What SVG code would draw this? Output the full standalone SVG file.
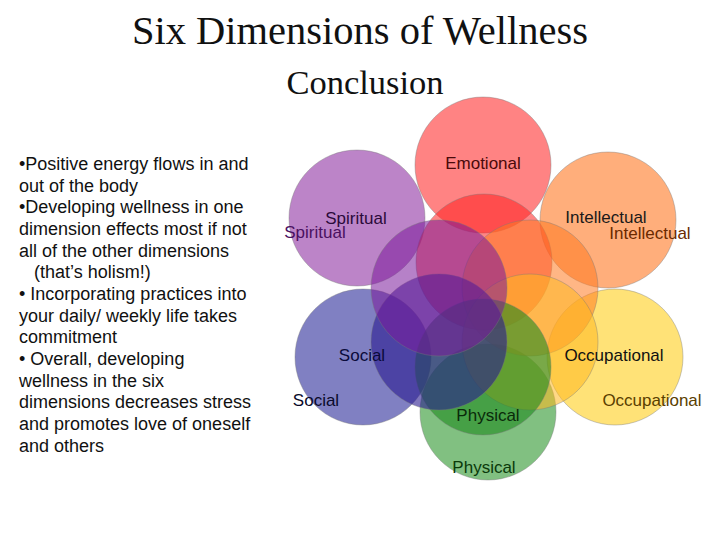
<svg xmlns="http://www.w3.org/2000/svg" width="720" height="540" viewBox="0 0 720 540">
<style>
.t{font-family:"Liberation Serif",serif;fill:#111;text-anchor:middle}
.b{font-family:"Liberation Sans",Arial,sans-serif;font-size:18px;fill:#111}
.l{font-family:"Liberation Sans",Arial,sans-serif;font-size:17px;text-anchor:middle}
circle{stroke:#777;stroke-opacity:0.4;stroke-width:1}
</style>
<rect width="720" height="540" fill="#fff"/>
<text class="t" x="360" y="44" font-size="40.5">Six Dimensions of Wellness</text>
<text class="t" x="365" y="94" font-size="34.5">Conclusion</text>
<g id="text">
<text class="b" x="19" y="170">•Positive energy flows in and</text>
<text class="b" x="19" y="192">out of the body</text>
<text class="b" x="19" y="213">•Developing wellness in one</text>
<text class="b" x="19" y="235">dimension effects most if not</text>
<text class="b" x="19" y="257">all of the other dimensions</text>
<text class="b" x="34" y="278">(that’s holism!)</text>
<text class="b" x="19" y="300">• Incorporating practices into</text>
<text class="b" x="19" y="322">your daily/ weekly life takes</text>
<text class="b" x="19" y="343">commitment</text>
<text class="b" x="19" y="365">• Overall, developing</text>
<text class="b" x="19" y="387">wellness in the six</text>
<text class="b" x="19" y="408">dimensions decreases stress</text>
<text class="b" x="19" y="430">and promotes love of oneself</text>
<text class="b" x="19" y="452">and others</text>
</g>
<g id="emotional"><circle cx="483" cy="165" r="68" fill="#ff5a5a" fill-opacity="0.75"/></g>
<g id="intellectual"><circle cx="608" cy="220" r="68" fill="#ff9a5a" fill-opacity="0.8"/></g>
<g id="occupational"><circle cx="615" cy="357" r="68" fill="#ffd84a" fill-opacity="0.75"/></g>
<g id="physical"><circle cx="488" cy="412" r="68" fill="#3d9e3d" fill-opacity="0.65"/></g>
<g id="social"><circle cx="363" cy="357" r="68" fill="#4a4aa8" fill-opacity="0.7"/></g>
<g id="spiritual"><circle cx="357" cy="218" r="68" fill="#a050b0" fill-opacity="0.7"/></g>
<g id="inner">
<circle cx="484" cy="262" r="68" fill="#ff2020" fill-opacity="0.55"/>
<circle cx="530" cy="288" r="68" fill="#ff7a20" fill-opacity="0.55"/>
<circle cx="530" cy="342" r="68" fill="#ffb820" fill-opacity="0.55"/>
<circle cx="483" cy="367" r="68" fill="#1f8a1f" fill-opacity="0.6"/>
<circle cx="439" cy="342" r="68" fill="#2a1a90" fill-opacity="0.6"/>
<circle cx="439" cy="288" r="68" fill="#7a1a9a" fill-opacity="0.55"/>
</g>
<g id="labels">
<text class="l" x="483" y="169" fill="#4a0a0a">Emotional</text>
<text class="l" x="356" y="224" fill="#2a0a3a">Spiritual</text>
<text class="l" x="315" y="238" fill="#4a1060">Spiritual</text>
<text class="l" x="606" y="223" fill="#1a1a1a">Intellectual</text>
<text class="l" x="650" y="239" fill="#6a2a00">Intellectual</text>
<text class="l" x="362" y="361" fill="#0a0a3a">Social</text>
<text class="l" x="316" y="406" fill="#0a0a2a">Social</text>
<text class="l" x="614" y="361" fill="#111">Occupational</text>
<text class="l" x="652" y="406" fill="#5a4000">Occupational</text>
<text class="l" x="488" y="421" fill="#0a2a0a">Physical</text>
<text class="l" x="484" y="473" fill="#0a3a0a">Physical</text>
</g>
</svg>
